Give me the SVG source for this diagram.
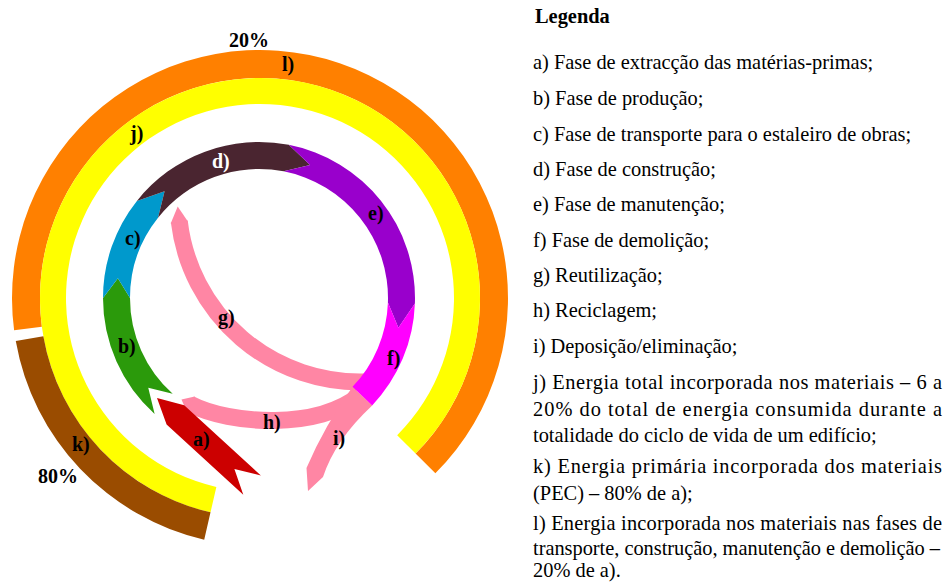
<svg xmlns="http://www.w3.org/2000/svg" width="948" height="582" viewBox="0 0 948 582">
<style>
.lbl{font-family:"Liberation Serif","Times New Roman",serif;font-weight:bold;font-size:20px;fill:#000}
.leg{font-family:"Liberation Serif","Times New Roman",serif;font-size:20.4px;fill:#000}
.pinkf{fill:#FF86A4}
.pinks{fill:none;stroke:#FF86A4;stroke-width:17}
</style>
<rect width="948" height="582" fill="#fff"/>
<g id="ring-l"><path d="M14.12,330.37 A248,248 0 1 1 435.36,473.36 L415.56,453.56 A220,220 0 1 0 41.88,326.72 Z" fill="#FF8000"/></g>
<g id="ring-j"><path d="M210.51,512.36 A220,220 0 1 1 415.56,453.56 L397.18,435.18 A194,194 0 1 0 216.36,487.03 Z" fill="#FFFF00"/></g>
<g id="ring-k"><path d="M204.21,539.64 A248,248 0 0 1 15.77,341.07 L43.34,336.20 A220,220 0 0 0 210.51,512.36 Z" fill="#9A4C00"/></g>
<g id="connectors">
<g id="arrow-g"><path class="pinks" d="M366.35,381.89 A182,182 0 0 1 179.28,221.55"/><polygon class="pinkf" points="170.7,223.6 177.7,206.6 187.9,221.6"/></g>
<g id="arrow-h"><path class="pinks" d="M360,395 C320,430 230,425 190,404"/><polygon class="pinkf" points="194.8,396.5 181.5,399.5 186.8,411.8"/></g>
<g id="arrow-i"><path class="pinkf" d="M352.6,386.8 L372.2,405.4 Q335,440 323,477 L308,491 L306.5,468 Q325,425 352.6,386.8 Z"/></g>
</g>
<g id="seg-b"><path d="M154.62,413.93 A156,156 0 0 1 103,298 L117.89,278.17 L130,298 A129,129 0 0 0 172.68,393.87 L148.26,387.68 Z" fill="#2B9A0B"/></g>
<g id="seg-c"><path d="M103,298 A156,156 0 0 1 136.91,200.89 L164.58,191.27 L158.04,217.70 A129,129 0 0 0 130,298 L117.89,278.17 Z" fill="#0099CC"/></g>
<g id="seg-d"><path d="M136.91,200.89 A156,156 0 0 1 288.77,144.87 L310.07,164.96 L283.61,171.37 A129,129 0 0 0 158.04,217.70 L164.58,191.27 Z" fill="#4A2530"/></g>
<g id="seg-e"><path d="M288.77,144.87 A156,156 0 0 1 414.90,303.44 L398.39,327.63 L387.92,302.50 A129,129 0 0 0 283.61,171.37 L310.07,164.96 Z" fill="#9900CC"/></g>
<g id="seg-f"><path d="M414.90,303.44 A156,156 0 0 1 372.16,405.38 L352.57,386.80 A129,129 0 0 0 387.92,302.50 L398.39,327.63 Z" fill="#FF00FF"/></g>
<g id="seg-a"><polygon points="157,398 184.2,405.3 260.9,475.5 234.4,468.9 243.3,494.7 166.6,424.5" fill="#CC0000"/></g>
<g id="labels">
<text class="lbl" x="229" y="47">20%</text>
<text class="lbl" x="282" y="71">l)</text>
<text class="lbl" x="130" y="140">j)</text>
<text class="lbl" x="212" y="168" style="fill:#fff">d)</text>
<text class="lbl" x="125" y="245">c)</text>
<text class="lbl" x="368" y="220">e)</text>
<text class="lbl" x="218" y="324">g)</text>
<text class="lbl" x="118" y="353">b)</text>
<text class="lbl" x="387" y="365">f)</text>
<text class="lbl" x="263" y="429">h)</text>
<text class="lbl" x="333" y="445">i)</text>
<text class="lbl" x="193" y="446">a)</text>
<text class="lbl" x="72" y="451">k)</text>
<text class="lbl" x="38" y="483">80%</text>
</g>
<g id="legend">
<text class="leg" x="535" y="23" font-weight="bold">Legenda</text>
<text class="leg" x="533" y="69">a) Fase de extracção das matérias-primas;</text>
<text class="leg" x="533" y="105">b) Fase de produção;</text>
<text class="leg" x="533" y="141">c) Fase de transporte para o estaleiro de obras;</text>
<text class="leg" x="533" y="176">d) Fase de construção;</text>
<text class="leg" x="533" y="211">e) Fase de manutenção;</text>
<text class="leg" x="533" y="247">f) Fase de demolição;</text>
<text class="leg" x="533" y="282">g) Reutilização;</text>
<text class="leg" x="533" y="317">h) Reciclagem;</text>
<text class="leg" x="533" y="353">i) Deposição/eliminação;</text>
<text class="leg" x="533" y="389" textLength="409" lengthAdjust="spacing">j) Energia total incorporada nos materiais – 6 a</text>
<text class="leg" x="533" y="416" textLength="409" lengthAdjust="spacing">20% do total de energia consumida durante a</text>
<text class="leg" x="533" y="442">totalidade do ciclo de vida de um edifício;</text>
<text class="leg" x="533" y="473" textLength="409" lengthAdjust="spacing">k) Energia primária incorporada dos materiais</text>
<text class="leg" x="533" y="500">(PEC) – 80% de a);</text>
<text class="leg" x="533" y="530" textLength="409" lengthAdjust="spacing">l) Energia incorporada nos materiais nas fases de</text>
<text class="leg" x="533" y="555" textLength="407" lengthAdjust="spacing">transporte, construção, manutenção e demolição –</text>
<text class="leg" x="533" y="577">20% de a).</text>
</g>
</svg>
